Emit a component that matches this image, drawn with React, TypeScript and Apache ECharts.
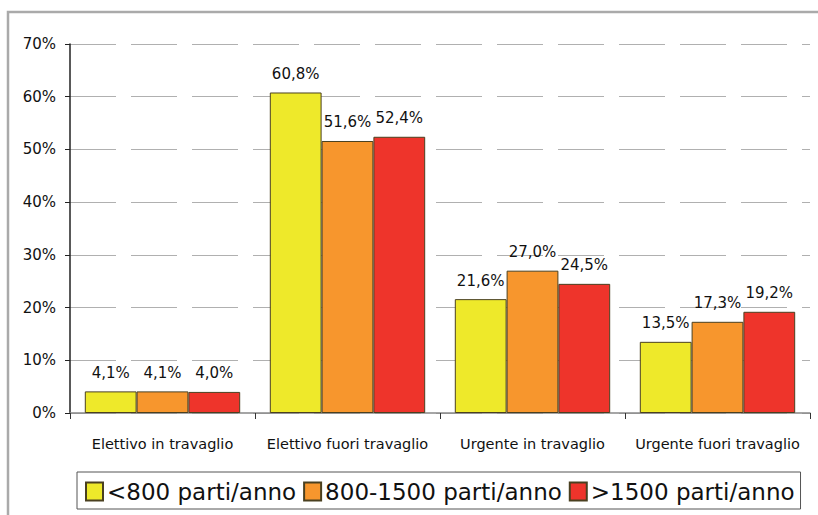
import React, { useEffect, useRef } from "react";
import * as echarts from "echarts";

const categories = [
  "Elettivo in travaglio",
  "Elettivo fuori travaglio",
  "Urgente in travaglio",
  "Urgente fuori travaglio",
];
const seriesNames = ["<800 parti/anno", "800-1500 parti/anno", ">1500 parti/anno"];
const small = [4.1, 60.8, 21.6, 13.5];
const medium = [4.1, 51.6, 27.0, 17.3];
const large = [4.0, 52.4, 24.5, 19.2];
const colors = ["#EEE92A", "#F7962D", "#EE342B"];

const FONT = "DejaVu Sans";

export default function App() {
  const ref = useRef<HTMLDivElement>(null);
  useEffect(() => {
    if (!ref.current) return;
    const chart = echarts.init(ref.current, null, { renderer: "svg" });
    const data = [small, medium, large];
    chart.setOption({
      animation: false,
      backgroundColor: "#fff",
      textStyle: { fontFamily: FONT },
      graphic: [
        {
          type: "rect",
          shape: { x: 8, y: 12, width: 840, height: 540 },
          style: { fill: "none", stroke: "#aaaaaa", lineWidth: 2.5 },
          silent: true,
        },
      ],
      grid: { left: 70, top: 44, right: 8, bottom: 102, containLabel: false },
      legend: {
        left: 77,
        top: 472,
        data: seriesNames,
        icon: "rect",
        itemWidth: 17,
        itemHeight: 18,
        itemGap: 7,
        padding: [8, 6, 6, 8],
        borderColor: "#555",
        borderWidth: 1,
        textStyle: { fontFamily: FONT, fontSize: 23, color: "#111", padding: [0, 0, 0, -1] },
      },
      xAxis: {
        type: "category",
        data: categories,
        axisLine: { lineStyle: { color: "#888", width: 1.5 } },
        axisTick: { show: true, length: 6, lineStyle: { color: "#333" } },
        axisLabel: { interval: 0, fontFamily: FONT, fontSize: 14.5, color: "#111", margin: 23 },
      },
      yAxis: {
        type: "value",
        min: 0,
        max: 70,
        interval: 10,
        axisLine: { show: true, lineStyle: { color: "#222", width: 1.5 } },
        axisTick: { show: true, length: 5, lineStyle: { color: "#222" } },
        axisLabel: { formatter: "{value}%", fontFamily: FONT, fontSize: 15, color: "#111", margin: 14 },
        splitLine: { lineStyle: { color: "#b0b0b0", type: [46, 15], width: 1.2 } },
      },
      series: data.map((d, i) => ({
        name: seriesNames[i],
        type: "bar",
        data: d,
        barGap: "0%",
        barCategoryGap: "16%",
        itemStyle: { color: colors[i], borderColor: "#4a4020", borderWidth: 1 },
        label: {
          show: true,
          position: "top",
          distance: 11,
          fontFamily: FONT,
          fontSize: 15,
          color: "#111",
          formatter: (p: any) => p.value.toFixed(1).replace(".", ",") + "%",
        },
      })),
    });
    return () => chart.dispose();
  }, []);
  return (
    <div
      ref={ref}
      style={{ position: "fixed", left: 0, top: 0, width: 818, height: 515 }}
    />
  );
}
